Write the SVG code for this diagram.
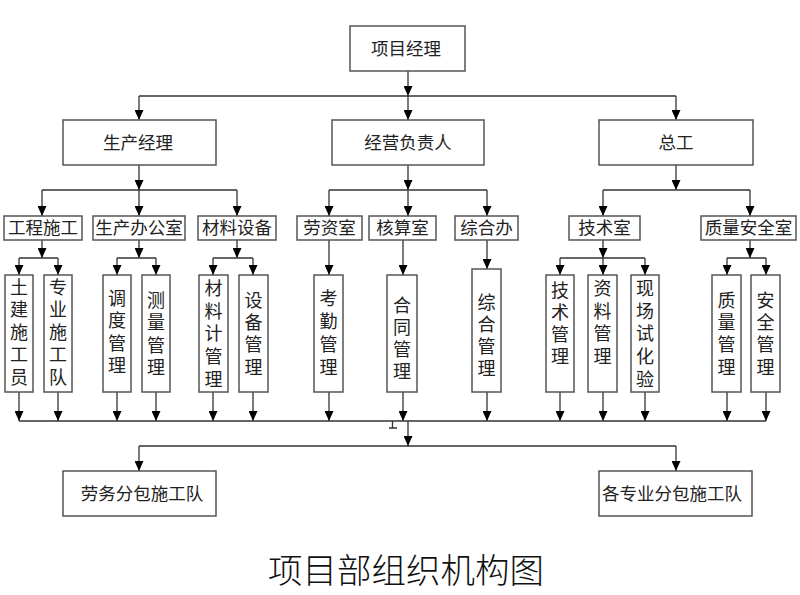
<svg xmlns="http://www.w3.org/2000/svg" width="800" height="595" viewBox="0 0 800 595">
<style>
.b{fill:#fff;stroke:#555;stroke-width:1.5}
.t{font-family:"Noto Sans CJK SC","Noto Sans",sans-serif;font-size:17.5px;fill:#222;text-anchor:middle}
.v{font-family:"Noto Sans CJK SC","Noto Sans",sans-serif;font-size:18px;fill:#222;text-anchor:middle}
.c path{fill:none;stroke:#333;stroke-width:1.3}
.c path.a{marker-end:url(#ah)}
</style>
<defs>
<marker id="ah" markerUnits="userSpaceOnUse" markerWidth="10" markerHeight="9" refX="10" refY="4.5" orient="auto" viewBox="0 0 10 9">
<path d="M0,0 L10,4.5 L0,9 z" fill="#000"/>
</marker>
</defs>
<rect width="800" height="595" fill="#fff"/>
<g class="c" id="connectors">
<path class="a" d="M408,71 V96"/>
<path d="M139,96 H676"/>
<path class="a" d="M139,96 V120"/>
<path class="a" d="M408,96 V120"/>
<path class="a" d="M676,96 V120"/>
<path class="a" d="M139,165 V190"/>
<path class="a" d="M408,165 V190"/>
<path class="a" d="M676,165 V190"/>
<path d="M42,190 H237"/>
<path d="M329,190 H487"/>
<path d="M603,190 H750"/>
<path class="a" d="M42,190 V216"/>
<path class="a" d="M139,190 V216"/>
<path class="a" d="M237,190 V216"/>
<path class="a" d="M329,190 V216"/>
<path class="a" d="M408,190 V216"/>
<path class="a" d="M487,190 V216"/>
<path class="a" d="M603,190 V216"/>
<path class="a" d="M750,190 V216"/>
<path class="a" d="M42,240 V258"/>
<path class="a" d="M139,240 V258"/>
<path class="a" d="M237,240 V258"/>
<path class="a" d="M603,240 V258"/>
<path class="a" d="M750,240 V258"/>
<path d="M19,258 H58"/>
<path d="M117,258 H156"/>
<path d="M213,258 H253"/>
<path d="M560,258 H645"/>
<path d="M727,258 H766"/>
<path class="a" d="M19,258 V275"/>
<path class="a" d="M58,258 V275"/>
<path class="a" d="M117,258 V275"/>
<path class="a" d="M156,258 V275"/>
<path class="a" d="M213,258 V275"/>
<path class="a" d="M253,258 V275"/>
<path class="a" d="M560,258 V275"/>
<path class="a" d="M603,258 V275"/>
<path class="a" d="M645,258 V275"/>
<path class="a" d="M727,258 V275"/>
<path class="a" d="M766,258 V275"/>
<path class="a" d="M329,240 V275"/>
<path class="a" d="M403,240 V275"/>
<path class="a" d="M487,240 V269"/>
<path class="a" d="M19,392 V421"/>
<path class="a" d="M58,392 V421"/>
<path class="a" d="M117,392 V421"/>
<path class="a" d="M156,392 V421"/>
<path class="a" d="M213,392 V421"/>
<path class="a" d="M253,392 V421"/>
<path class="a" d="M329,392 V421"/>
<path class="a" d="M403,392 V421"/>
<path class="a" d="M487,392 V421"/>
<path class="a" d="M560,392 V421"/>
<path class="a" d="M603,392 V421"/>
<path class="a" d="M645,392 V421"/>
<path class="a" d="M727,392 V421"/>
<path class="a" d="M766,392 V421"/>
<path d="M19,421 H766"/>
<path d="M392.5,421 V428 M389,428 H397"/>
<path class="a" d="M408,421 V446"/>
<path d="M139,446 H676"/>
<path class="a" d="M139,446 V471"/>
<path class="a" d="M676,446 V471"/>
</g>
<g id="n-pm"><rect class="b" x="350" y="26" width="115" height="45"/><text class="t" x="406" y="55">项目经理</text></g>
<g id="n-prod"><rect class="b" x="63" y="120" width="153" height="45"/><text class="t" x="138" y="149">生产经理</text></g>
<g id="n-biz"><rect class="b" x="332" y="120" width="152" height="45"/><text class="t" x="408" y="149">经营负责人</text></g>
<g id="n-chief"><rect class="b" x="599" y="120" width="154" height="45"/><text class="t" x="676" y="149">总工</text></g>
<g id="n-gcsg"><rect class="b" x="4" y="216" width="78" height="24"/><text class="t" x="43" y="234">工程施工</text></g>
<g id="n-scbgs"><rect class="b" x="93" y="216" width="92" height="24"/><text class="t" x="139" y="234">生产办公室</text></g>
<g id="n-clsb"><rect class="b" x="198" y="216" width="78" height="24"/><text class="t" x="237" y="234">材料设备</text></g>
<g id="n-lzs"><rect class="b" x="297" y="216" width="65" height="24"/><text class="t" x="329.5" y="234">劳资室</text></g>
<g id="n-hss"><rect class="b" x="369" y="216" width="67" height="24"/><text class="t" x="402.5" y="234">核算室</text></g>
<g id="n-zhb"><rect class="b" x="455" y="216" width="63" height="24"/><text class="t" x="486.5" y="234">综合办</text></g>
<g id="n-jss"><rect class="b" x="569" y="216" width="71" height="24"/><text class="t" x="604.5" y="234">技术室</text></g>
<g id="n-zlaqs"><rect class="b" x="701" y="216" width="95" height="24"/><text class="t" x="748.5" y="234">质量安全室</text></g>
<g id="n-tjsgy"><rect class="b" x="5" y="275" width="28" height="117"/><text class="v"><tspan x="19" y="293.5">土</tspan><tspan x="19" y="316">建</tspan><tspan x="19" y="338.5">施</tspan><tspan x="19" y="361">工</tspan><tspan x="19" y="383.5">员</tspan></text></g>
<g id="n-zysgd"><rect class="b" x="44" y="275" width="28" height="117"/><text class="v"><tspan x="58" y="293.5">专</tspan><tspan x="58" y="316">业</tspan><tspan x="58" y="338.5">施</tspan><tspan x="58" y="361">工</tspan><tspan x="58" y="383.5">队</tspan></text></g>
<g id="n-ddgl"><rect class="b" x="103" y="275" width="28" height="117"/><text class="v"><tspan x="117" y="304.5">调</tspan><tspan x="117" y="327">度</tspan><tspan x="117" y="349.5">管</tspan><tspan x="117" y="372">理</tspan></text></g>
<g id="n-clgl"><rect class="b" x="142" y="275" width="28" height="117"/><text class="v"><tspan x="156" y="306.5">测</tspan><tspan x="156" y="329">量</tspan><tspan x="156" y="351.5">管</tspan><tspan x="156" y="374">理</tspan></text></g>
<g id="n-cljgl"><rect class="b" x="199" y="275" width="29" height="117"/><text class="v"><tspan x="213.5" y="294.5">材</tspan><tspan x="213.5" y="317.5">料</tspan><tspan x="213.5" y="340">计</tspan><tspan x="213.5" y="363">管</tspan><tspan x="213.5" y="385.5">理</tspan></text></g>
<g id="n-sbgl"><rect class="b" x="239" y="275" width="29" height="117"/><text class="v"><tspan x="253.5" y="306.5">设</tspan><tspan x="253.5" y="329">备</tspan><tspan x="253.5" y="351">管</tspan><tspan x="253.5" y="373.5">理</tspan></text></g>
<g id="n-kqgl"><rect class="b" x="314" y="275" width="29" height="117"/><text class="v"><tspan x="328.5" y="304.5">考</tspan><tspan x="328.5" y="327.5">勤</tspan><tspan x="328.5" y="350.5">管</tspan><tspan x="328.5" y="373.5">理</tspan></text></g>
<g id="n-htgl"><rect class="b" x="387" y="275" width="30" height="117"/><text class="v"><tspan x="402" y="311.5">合</tspan><tspan x="402" y="333.5">同</tspan><tspan x="402" y="355.5">管</tspan><tspan x="402" y="377.5">理</tspan></text></g>
<g id="n-zhgl"><rect class="b" x="472" y="269" width="29" height="123"/><text class="v"><tspan x="486.5" y="308.5">综</tspan><tspan x="486.5" y="330.5">合</tspan><tspan x="486.5" y="352.5">管</tspan><tspan x="486.5" y="374.5">理</tspan></text></g>
<g id="n-jsgl"><rect class="b" x="546" y="275" width="28" height="117"/><text class="v"><tspan x="560" y="296.5">技</tspan><tspan x="560" y="318.5">术</tspan><tspan x="560" y="340.5">管</tspan><tspan x="560" y="362.5">理</tspan></text></g>
<g id="n-zlgl"><rect class="b" x="588" y="275" width="29" height="117"/><text class="v"><tspan x="602.5" y="294.5">资</tspan><tspan x="602.5" y="317.5">料</tspan><tspan x="602.5" y="339.5">管</tspan><tspan x="602.5" y="362.5">理</tspan></text></g>
<g id="n-xcshy"><rect class="b" x="631" y="275" width="28" height="117"/><text class="v"><tspan x="645" y="294.5">现</tspan><tspan x="645" y="317.5">场</tspan><tspan x="645" y="339.5">试</tspan><tspan x="645" y="362.5">化</tspan><tspan x="645" y="385.5">验</tspan></text></g>
<g id="n-zlgl2"><rect class="b" x="712" y="275" width="29" height="117"/><text class="v"><tspan x="726.5" y="306.5">质</tspan><tspan x="726.5" y="328.5">量</tspan><tspan x="726.5" y="350.5">管</tspan><tspan x="726.5" y="373.5">理</tspan></text></g>
<g id="n-aqgl"><rect class="b" x="751" y="275" width="29" height="117"/><text class="v"><tspan x="765.5" y="306.5">安</tspan><tspan x="765.5" y="328.5">全</tspan><tspan x="765.5" y="350.5">管</tspan><tspan x="765.5" y="373.5">理</tspan></text></g>
<g id="n-lwfb"><rect class="b" x="63" y="471" width="153" height="45"/><text class="t" x="142" y="500">劳务分包施工队</text></g>
<g id="n-zyfb"><rect class="b" x="599" y="471" width="153" height="45"/><text class="t" x="672" y="500">各专业分包施工队</text></g>
<text id="title" x="406" y="583" style="font-family:'Noto Sans CJK SC',sans-serif;font-size:34.5px;fill:#111;text-anchor:middle;font-weight:300">项目部组织机构图</text>
</svg>
